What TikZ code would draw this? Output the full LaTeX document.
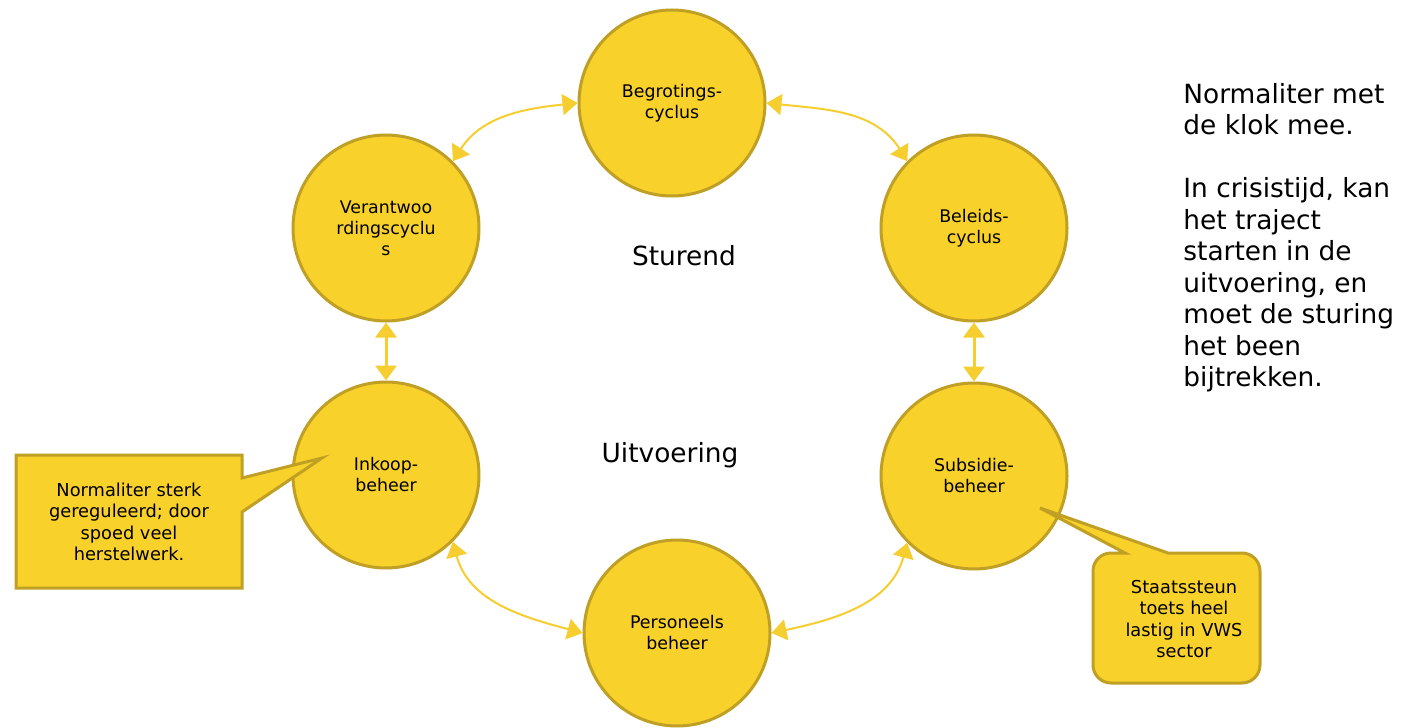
\documentclass[tikz,border=0pt]{standalone}
\usepackage{fontspec}
\setmainfont{DejaVu Sans}
\usetikzlibrary{arrows.meta}
\definecolor{geel}{HTML}{F9D12B}
\definecolor{rand}{HTML}{BFA024}
\definecolor{pijlkleur}{HTML}{F6CE2F}

\begin{document}
\begin{tikzpicture}[x=0.5pt, y=0.5pt]
  \fill [white] (0, 0) rectangle (1404, -726);  % Vaste marges.
  \tikzstyle{cirkel}=[circle, draw=rand, line width=1.5pt, fill=geel, minimum size=93pt, inner sep=0pt, align=center, font=\fontsize{8.7}{10.5}\selectfont]
  \tikzstyle{pijl}=[draw, color=pijlkleur, line width=1pt, {Triangle[length=7.5pt, width=10.5pt]}-{Triangle[length=7.5pt, width=10.5pt]}]
  \tikzstyle{ballon}=[draw=rand, line width=1.5pt, fill=geel]
  \tikzstyle{tekst}=[align=center, inner sep=0pt, font=\fontsize{8.9}{10.75}\selectfont]
  \tikzstyle{groot}=[inner sep=0pt, font=\fontsize{13.2}{15.75}\selectfont]

  \node[cirkel] (1) at (672, -103) {Begrotings-\\cyclus};
  \node[cirkel] (2) at (974, -228) {Beleids-\\cyclus};
  \node[cirkel] (3) at (974, -476) {Subsidie-\\beheer};
  \node[cirkel] (4) at (677, -633) {Personeels\\beheer};
  \node[cirkel] (5) at (386, -475) {Inkoop-\\beheer};
  \node[cirkel] (6) at (386, -228) {Verantwoo\\rdingscyclu\\s};

  \path (6.45) edge[pijl, out=57, in=186] (1.west);
  \path (1.east) edge[pijl, out=-6, in=122] (2.135);
  \path (2.south) edge[pijl, line width=1.5pt] (3.north);
  \path (3.225) edge[pijl, out=-105, in=12] (4.east);
  \path (4.west) edge[pijl, out=165, in=-75] (5.-45);
  \path (5.north) edge[pijl, line width=1.5pt] (6.south);

  \node[groot, anchor=base] (7) at (684, -265) {Sturend};
  \node[groot, anchor=base] (8) at (670, -462) {Uitvoering};
  \node[groot, anchor=north west, align=left] (9) at (1183, -83) {Normaliter met\\de klok mee.\\[15.75pt]In crisistijd, kan\\het traject\\starten in de\\uitvoering, en\\moet de sturing\\het been\\bijtrekken.};

  % Ballonnen.
  \draw[ballon] (16, -455) -- (242, -455) -- (242, -478) -- (322, -458) -- (242, -512) -- (242, -588) -- (16, -588) -- cycle;
  \node[tekst] (10) at (129, -522) {Normaliter sterk\\gereguleerd; door\\spoed veel\\herstelwerk.};

  \draw[ballon] (1111, -553) -- (1125, -553) -- (1040, -508) -- (1168, -553) -- (1242, -553) arc[start angle=90, end angle=0, radius=9pt] -- (1260, -665) arc[start angle=0, end angle=-90, radius=9pt] -- (1111, -683) arc[start angle=-90, end angle=-180, radius=9pt] -- (1093, -571) arc[start angle=180, end angle=90, radius=9pt] -- cycle;
  \node[tekst] (11) at (1184, -619) {Staatssteun\\toets heel\\lastig in VWS\\sector};
\end{tikzpicture}
\end{document}
